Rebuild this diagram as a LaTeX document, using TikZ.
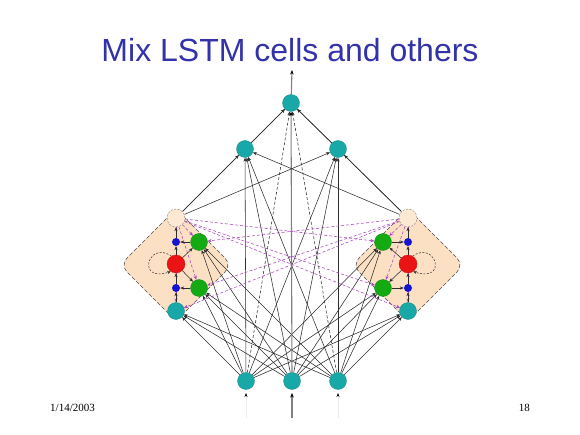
\documentclass[tikz,border=0pt]{standalone}
\usepackage{fontspec}
\setmainfont{Liberation Serif}
\newfontfamily\titlefont{Liberation Sans}
\usetikzlibrary{arrows.meta}
\definecolor{tealc}{RGB}{25,168,168}
\definecolor{greenc}{RGB}{20,170,20}
\definecolor{redc}{RGB}{235,20,20}
\definecolor{bluec}{RGB}{20,20,210}
\definecolor{peachc}{RGB}{252,224,196}
\definecolor{palec}{RGB}{253,232,212}
\definecolor{purplec}{RGB}{170,70,190}
\definecolor{linec}{RGB}{45,45,45}
\definecolor{titlec}{RGB}{50,50,170}
\pgfdeclarelayer{bg}
\pgfdeclarelayer{edges}
\pgfsetlayers{bg,edges,main}
\begin{document}
\begin{tikzpicture}[x=1pt,y=-1pt,
  neuron/.style={circle, fill=tealc, draw=tealc!80!black, line width=0.3pt, minimum size=17pt, inner sep=0pt},
  gatec/.style={circle, fill=greenc, draw=greenc!80!black, line width=0.3pt, minimum size=17pt, inner sep=0pt},
  cellc/.style={circle, fill=redc, draw=redc!80!black, line width=0.3pt, minimum size=18pt, inner sep=0pt},
  multc/.style={circle, fill=bluec, minimum size=8pt, inner sep=0pt},
  outc/.style={circle, fill=palec, draw=gray, dashed, dash pattern=on 2pt off 1.5pt, line width=0.4pt, minimum size=18pt, inner sep=0pt},
  arr/.style={draw=linec, line width=0.55pt, -{Stealth[length=4pt,width=3.2pt]}},
  darr/.style={arr, dash pattern=on 3pt off 2pt},
  parr/.style={draw=purplec, dash pattern=on 3pt off 2pt, line width=0.55pt, -{Stealth[length=4pt,width=3.2pt]}},
  garr/.style={draw=gray, line width=1.1pt, -{Stealth[length=4.5pt,width=3.5pt,color=black]}},
  farr/.style={draw=black!7, line width=0.6pt, -{Stealth[length=4pt,width=3pt,color=black]}},
  loopc/.style={draw=linec, dash pattern=on 2pt off 1.5pt, line width=0.5pt, -{Stealth[length=3.5pt,width=3pt]}},
  diam/.style={fill=peachc, draw=black!70, dash pattern=on 4pt off 2pt, line width=0.55pt, rounded corners=10pt}
]
\useasboundingbox (0,0) rectangle (580,435);

% title and footer
\node[anchor=base, inner sep=0pt, text=titlec] (title) at (290,62) {\titlefont\fontsize{32}{36}\selectfont Mix LSTM cells and others};
\node[anchor=base west, inner sep=0pt] (date) at (50,411) {\fontsize{11}{13}\selectfont 1/14/2003};
\node[anchor=base east, inner sep=0pt] (page) at (530,411) {\fontsize{11}{13}\selectfont 18};

% background and cell backgrounds
\begin{pgfonlayer}{bg}
\fill[white] (0,0) rectangle (580,435);
\draw[diam] (176,209) -- (232,265) -- (176,321) -- (120,265) -- cycle;
\draw[diam] (408,209) -- (464,265) -- (408,321) -- (352,265) -- cycle;
\end{pgfonlayer}

% network nodes
\node[neuron] (O) at (291,103) {};
\node[neuron] (H1) at (245,149) {};
\node[neuron] (H2) at (338,149) {};
\node[neuron] (I1) at (246,381) {};
\node[neuron] (I2) at (292,381) {};
\node[neuron] (I3) at (338,381) {};

% left LSTM cell
\node[outc] (LP) at (176,218) {};
\node[multc] (LB1) at (176,242) {};
\node[gatec] (LG1) at (199,242) {};
\node[cellc] (LR) at (176,264) {};
\node[multc] (LB2) at (176,288) {};
\node[gatec] (LG2) at (199,288) {};
\node[neuron] (LT) at (176,311) {};

% right LSTM cell
\node[outc] (RP) at (408,218) {};
\node[multc] (RB1) at (408,242) {};
\node[gatec] (RG1) at (383,242) {};
\node[cellc] (RR) at (408,264) {};
\node[multc] (RB2) at (408,288) {};
\node[gatec] (RG2) at (383,288) {};
\node[neuron] (RT) at (408,311) {};

\coordinate (otop) at (292,70);
\coordinate (i1b) at (246,418);
\coordinate (i2b) at (292,418);
\coordinate (i3b) at (338,418);
\coordinate (i1e) at (246,393);
\coordinate (i2e) at (292,393);
\coordinate (i3e) at (338,393);

\begin{pgfonlayer}{edges}
% input feeds
\foreach \i in {I1,I2,I3}
  \foreach \t in {LT,LG1,LG2,RT,RG1,RG2,H1,H2}
    \draw[arr] (\i) -- (\t);
\draw[darr] (I1) -- (O);
\draw[darr] (I3) -- (O);
\draw[garr] (I2) -- (O);
% cell outputs and hidden units
\foreach \s in {LP,RP}
  \foreach \t in {H1,H2,O}
    \draw[arr] (\s) -- (\t);
\draw[arr] (H1) -- (O);
\draw[arr] (H2) -- (O);
% recurrent connections
\foreach \s in {LP,RP}
  \foreach \t in {LG1,LG2,LT,RG1,RG2,RT}
    \draw[parr] (\s) -- (\t);
% internal wiring left
\draw[arr] (LT) -- (LB2);
\draw[arr] (LB2) -- (LR);
\draw[arr] (LR) -- (LB1);
\draw[arr] (LB1) -- (LP);
\draw[arr] (LG1) -- (LB1);
\draw[arr] (LG2) -- (LB2);
\draw[arr] (LR) -- (LG1);
\draw[arr] (LR) -- (LG2);
\draw[loopc] (LR.120) .. controls (148,240) and (136,283) .. (LR.235);
% internal wiring right
\draw[arr] (RT) -- (RB2);
\draw[arr] (RB2) -- (RR);
\draw[arr] (RR) -- (RB1);
\draw[arr] (RB1) -- (RP);
\draw[arr] (RG1) -- (RB1);
\draw[arr] (RG2) -- (RB2);
\draw[arr] (RR) -- (RG1);
\draw[arr] (RR) -- (RG2);
\draw[loopc] (RR.60) .. controls (436,240) and (448,283) .. (RR.-55);
% external in/out
\draw[garr] (O) -- (otop);
\draw[farr] (i1b) -- (i1e);
\draw[garr] (i2b) -- (i2e);
\draw[farr] (i3b) -- (i3e);
\end{pgfonlayer}
\end{tikzpicture}
\end{document}
